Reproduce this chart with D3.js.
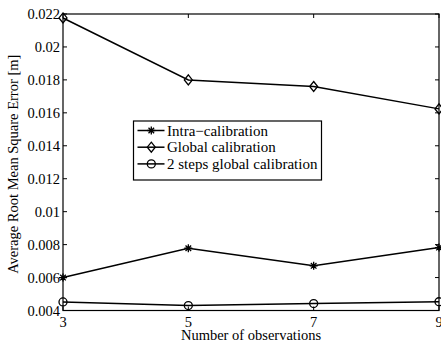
<!DOCTYPE html>
<html>
<head>
<meta charset="utf-8">
<script src="https://cdn.jsdelivr.net/npm/d3@7"></script>
<style>
  body { margin: 0; background: #fff; }
  text { font-family: "Liberation Serif", "Times New Roman", serif; fill: #000; }
</style>
</head>
<body>
<div id="chart"></div>
<script>
const OBS = [3, 5, 7, 9];
const INTRA = [0.0060, 0.00778, 0.00671, 0.00782];
const GLOBAL = [0.02176, 0.01800, 0.01760, 0.01624];
const TWO_STEP = [0.00452, 0.00430, 0.00442, 0.00453];
const Y_TICKS = [0.004, 0.006, 0.008, 0.01, 0.012, 0.014, 0.016, 0.018, 0.02, 0.022];
const Y_TICK_LABELS = ["0.004", "0.006", "0.008", "0.01", "0.012", "0.014", "0.016", "0.018", "0.02", "0.022"];
const SERIES_NAMES = ["Intra\u2212calibration", "Global calibration", "2 steps global calibration"];

const WIDTH = 441;
const HEIGHT = 345;
const LEFT = 63;
const RIGHT = 439;
const TOP = 14;
const BOTTOM = 310.5;
const TICK = 4;

const x = d3.scaleLinear().domain([3, 9]).range([LEFT, RIGHT]);
const y = d3.scaleLinear().domain([0.004, 0.022]).range([BOTTOM, TOP]);

const svg = d3.select("#chart").append("svg")
    .attr("width", WIDTH)
    .attr("height", HEIGHT);

// frame
svg.append("rect")
    .attr("x", LEFT)
    .attr("y", TOP)
    .attr("width", RIGHT - LEFT)
    .attr("height", BOTTOM - TOP)
    .attr("fill", "none")
    .attr("stroke", "#000")
    .attr("stroke-width", 1.2);

// y ticks, both sides, pointing in
const yt = svg.append("g").selectAll("g")
    .data(Y_TICKS)
  .enter().append("g");

yt.append("line")
    .attr("x1", LEFT).attr("x2", LEFT + TICK)
    .attr("y1", d => y(d)).attr("y2", d => y(d))
    .attr("stroke", "#000");

yt.append("line")
    .attr("x1", RIGHT).attr("x2", RIGHT - TICK)
    .attr("y1", d => y(d)).attr("y2", d => y(d))
    .attr("stroke", "#000");

yt.append("text")
    .attr("x", LEFT - 3)
    .attr("y", d => y(d))
    .attr("dy", "0.35em")
    .attr("text-anchor", "end")
    .attr("font-size", 14.5)
    .text((d, i) => Y_TICK_LABELS[i]);

// x ticks
const xt = svg.append("g").selectAll("g")
    .data(OBS)
  .enter().append("g");

xt.append("line")
    .attr("x1", d => x(d)).attr("x2", d => x(d))
    .attr("y1", BOTTOM).attr("y2", BOTTOM - TICK)
    .attr("stroke", "#000");

xt.append("line")
    .attr("x1", d => x(d)).attr("x2", d => x(d))
    .attr("y1", TOP).attr("y2", TOP + TICK)
    .attr("stroke", "#000");

xt.append("text")
    .attr("x", d => x(d))
    .attr("y", BOTTOM + 16)
    .attr("text-anchor", "middle")
    .attr("font-size", 14.5)
    .text(d => d);

// axis labels
svg.append("text")
    .attr("x", (LEFT + RIGHT) / 2)
    .attr("y", 339.5)
    .attr("text-anchor", "middle")
    .attr("font-size", 14.5)
    .text("Number of observations");

svg.append("text")
    .attr("transform", `translate(18,${(TOP + BOTTOM) / 2 + 2}) rotate(-90)`)
    .attr("text-anchor", "middle")
    .attr("font-size", 14.5)
    .text("Average Root Mean Square Error [m]");

// markers
function marker(g, type) {
  if (type === "star") {
    const r = 4;
    g.append("path")
        .attr("d", `M${-r},0H${r}M0,${-r}V${r}M${-r * 0.7},${-r * 0.7}L${r * 0.7},${r * 0.7}M${-r * 0.7},${r * 0.7}L${r * 0.7},${-r * 0.7}`)
        .attr("stroke", "#000")
        .attr("stroke-width", 1.3)
        .attr("fill", "none");
  } else if (type === "diamond") {
    const r = 5;
    g.append("path")
        .attr("d", `M0,${-r}L${r * 0.8},0L0,${r}L${-r * 0.8},0Z`)
        .attr("stroke", "#000")
        .attr("stroke-width", 1.3)
        .attr("fill", "none");
  } else {
    g.append("circle")
        .attr("r", 4)
        .attr("stroke", "#000")
        .attr("stroke-width", 1.3)
        .attr("fill", "none");
  }
}

const series = [
  { name: SERIES_NAMES[0], values: INTRA, type: "star" },
  { name: SERIES_NAMES[1], values: GLOBAL, type: "diamond" },
  { name: SERIES_NAMES[2], values: TWO_STEP, type: "circle" }
];

const line = d3.line()
    .x((d, i) => x(OBS[i]))
    .y(d => y(d));

series.forEach(s => {
  svg.append("path")
      .datum(s.values)
      .attr("d", line)
      .attr("fill", "none")
      .attr("stroke", "#000")
      .attr("stroke-width", 1.5);

  svg.append("g").selectAll("g")
      .data(s.values)
    .enter().append("g")
      .attr("transform", (d, i) => `translate(${x(OBS[i])},${y(d)})`)
      .each(function() { marker(d3.select(this), s.type); });
});

// legend
const LEG_X = 133.5;
const LEG_Y = 121;
const LEG_W = 188;
const LEG_H = 59;

svg.append("rect")
    .attr("x", LEG_X)
    .attr("y", LEG_Y)
    .attr("width", LEG_W)
    .attr("height", LEG_H)
    .attr("fill", "#fff")
    .attr("stroke", "#000")
    .attr("stroke-width", 1.2);

const item = svg.append("g").selectAll("g")
    .data(series)
  .enter().append("g")
    .attr("transform", (d, i) => `translate(${LEG_X},${LEG_Y + 9.5 + i * 16.7})`);

item.append("line")
    .attr("x1", 4).attr("x2", 31)
    .attr("stroke", "#000")
    .attr("stroke-width", 1.5);

item.append("g")
    .attr("transform", "translate(17.8,0)")
    .each(function(d) { marker(d3.select(this), d.type); });

item.append("text")
    .attr("x", 33.5)
    .attr("dy", "0.35em")
    .attr("font-size", 15)
    .text(d => d.name);
</script>
</body>
</html>
